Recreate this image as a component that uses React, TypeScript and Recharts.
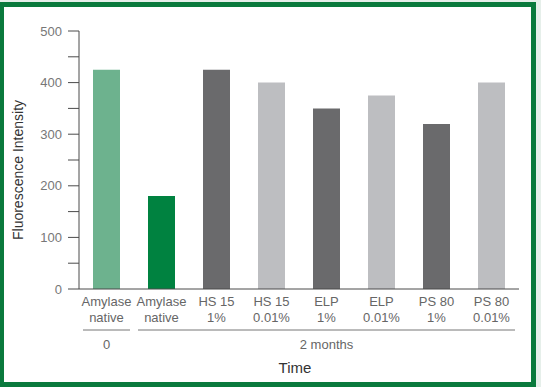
import { Bar, BarChart, Cell, XAxis, YAxis } from "recharts";

const CATEGORIES = [
  "Amylase|native",
  "Amylase|native",
  "HS 15|1%",
  "HS 15|0.01%",
  "ELP|1%",
  "ELP|0.01%",
  "PS 80|1%",
  "PS 80|0.01%",
];
const VALUES = [425, 180, 425, 400, 350, 375, 320, 400];
const COLORS = [
  "#6db28e",
  "#008240",
  "#6a6a6c",
  "#bdbec1",
  "#6a6a6c",
  "#bdbec1",
  "#6a6a6c",
  "#bdbec1",
];
// time groups: label, first category index, last category index
const GROUPS: [string, number, number][] = [
  ["0", 0, 0],
  ["2 months", 1, 7],
];
const Y_TICKS = [0, 50, 100, 150, 200, 250, 300, 350, 400, 450, 500];

const FONT = "'Liberation Sans', Arial, sans-serif";
const PLOT_LEFT = 79;
const PLOT_WIDTH = 440;

const data = CATEGORIES.map((c, i) => ({ name: c, value: VALUES[i] }));

function CategoryTick(props: any) {
  const { x, y, payload, index } = props;
  const [l1, l2] = String(payload.value).split("|");
  const band = PLOT_WIDTH / CATEGORIES.length;
  const group = GROUPS.find((g) => g[1] === index);
  let groupEls = null;
  if (group) {
    const x1 = x - band / 2 + 4;
    const x2 = x + (group[2] - group[1]) * band + band / 2 - 4;
    groupEls = (
      <g>
        <line x1={x1} x2={x2} y1={y + 41} y2={y + 41} stroke="#777" strokeWidth={1} />
        <text x={(x1 + x2) / 2} y={y + 60} textAnchor="middle" fill="#666" fontSize={13} fontFamily={FONT}>
          {group[0]}
        </text>
      </g>
    );
  }
  return (
    <g>
      <text x={x} y={y + 17} textAnchor="middle" fill="#666" fontSize={13} fontFamily={FONT}>
        <tspan x={x}>{l1}</tspan>
        <tspan x={x} dy={16}>{l2}</tspan>
      </text>
      {groupEls}
    </g>
  );
}

export default function App() {
  return (
    <div style={{ position: "absolute", left: 0, top: 0, width: 541, height: 387, background: "#e6efea" }}>
      <div
        style={{
          position: "absolute",
          left: -1,
          top: 2,
          width: 537,
          height: 385,
          boxSizing: "border-box",
          border: "5px solid #0a7a3d",
          background: "#fff",
        }}
      />
      <div style={{ position: "absolute", left: 0, top: 0 }}>
        <BarChart
          width={541}
          height={387}
          data={data}
          margin={{ top: 31, right: 541 - PLOT_LEFT - PLOT_WIDTH, left: 0, bottom: 0 }}
        >
          <YAxis
            width={PLOT_LEFT}
            domain={[0, 500]}
            ticks={Y_TICKS}
            interval={0}
            tickFormatter={(v: number) => (v % 100 === 0 ? String(v) : "")}
            tick={{ fontSize: 13, fill: "#777", fontFamily: FONT }}
            tickSize={11}
            tickMargin={6}
            axisLine={{ stroke: "#4a4a4a" }}
            tickLine={{ stroke: "#4a4a4a" }}
            label={{
              value: "Fluorescence Intensity",
              angle: -90,
              position: "center",
              dx: -21,
              dy: 10,
              fill: "#333",
              fontSize: 14,
              fontFamily: FONT,
            }}
          />
          <XAxis
            dataKey="name"
            height={98}
            interval={0}
            tickLine={false}
            tickSize={0}
            tickMargin={0}
            axisLine={{ stroke: "#4a4a4a" }}
            tick={<CategoryTick />}
            label={{
              value: "Time",
              position: "insideBottom",
              offset: 14,
              dx: -4,
              fill: "#333",
              fontSize: 15,
              fontFamily: FONT,
            }}
          />
          <Bar dataKey="value" barSize={27} isAnimationActive={false}>
            {data.map((_, i) => (
              <Cell key={i} fill={COLORS[i]} />
            ))}
          </Bar>
        </BarChart>
      </div>
    </div>
  );
}
